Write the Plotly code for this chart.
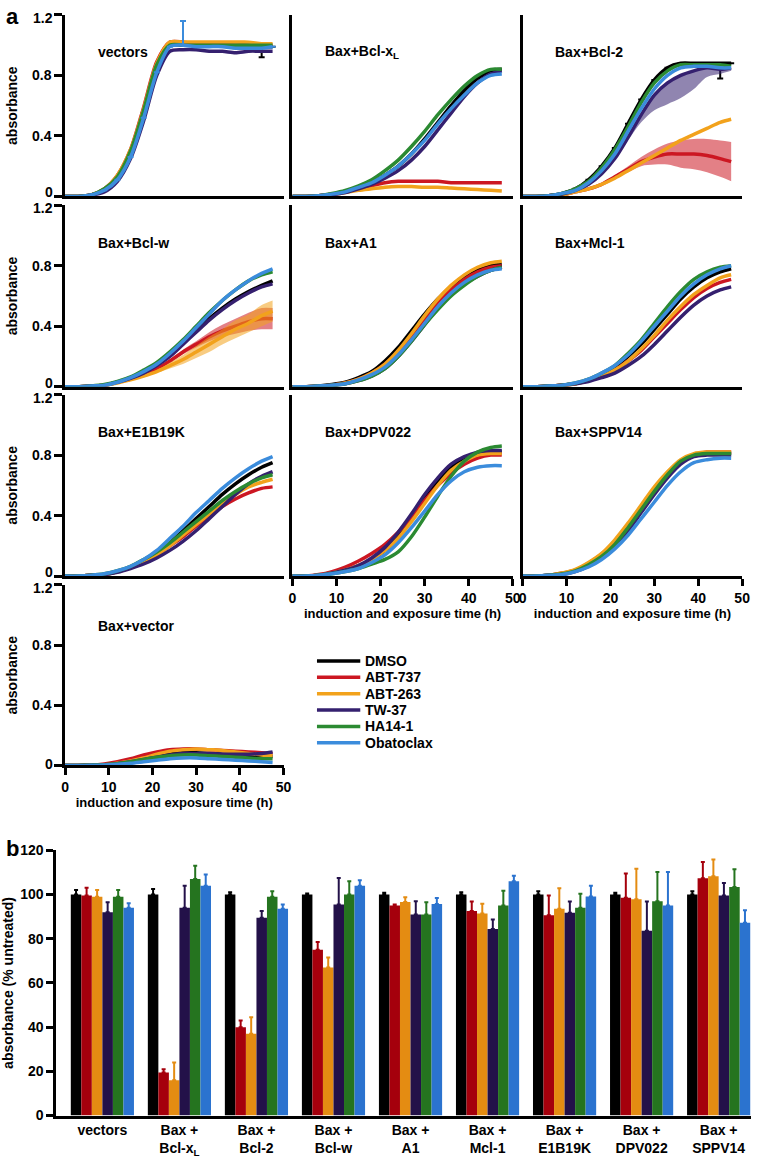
import plotly.graph_objects as go

# time points (h) shared by all growth curves
T = [0, 3, 6, 9, 12, 15, 18, 21, 24, 27, 30, 33, 36, 39, 42, 45, 47.5]

treatments = ["DMSO", "ABT-737", "ABT-263", "TW-37", "HA14-1", "Obatoclax"]
line_colors = ["#000000", "#cc1722", "#f2a21c", "#35206f", "#2b8a32", "#3b8cdc"]
bar_colors = ["#000000", "#a5000c", "#e48c12", "#231149", "#25741f", "#2b73cf"]

# panel a: absorbance curves
vectors = {
    "DMSO":      [0, 0, 0.01, 0.04, 0.12, 0.28, 0.55, 0.85, 1.0, 1.0, 1.0, 1.0, 1.0, 1.0, 1.0, 0.99, 0.99],
    "ABT-737":   [0, 0, 0.01, 0.05, 0.14, 0.31, 0.59, 0.89, 1.02, 1.02, 1.01, 1.01, 1.01, 1.0, 1.0, 1.0, 1.0],
    "ABT-263":   [0, 0, 0.01, 0.05, 0.14, 0.31, 0.58, 0.88, 1.02, 1.02, 1.02, 1.02, 1.02, 1.02, 1.02, 1.01, 1.01],
    "TW-37":     [0, 0, 0.01, 0.03, 0.10, 0.25, 0.50, 0.80, 0.96, 0.97, 0.97, 0.96, 0.96, 0.95, 0.96, 0.96, 0.96],
    "HA14-1":    [0, 0, 0.01, 0.05, 0.13, 0.30, 0.57, 0.87, 1.0, 1.0, 1.0, 1.0, 1.0, 1.0, 1.0, 1.0, 1.0],
    "Obatoclax": [0, 0, 0.01, 0.04, 0.11, 0.26, 0.52, 0.82, 0.99, 1.0, 0.99, 0.99, 0.99, 0.98, 0.98, 0.98, 0.99],
}
bcl_xl = {
    "DMSO":      [0, 0, 0.005, 0.015, 0.03, 0.06, 0.09, 0.14, 0.20, 0.28, 0.38, 0.49, 0.60, 0.70, 0.78, 0.83, 0.84],
    "ABT-737":   [0, 0, 0.005, 0.015, 0.03, 0.05, 0.07, 0.09, 0.10, 0.10, 0.10, 0.10, 0.09, 0.09, 0.09, 0.09, 0.09],
    "ABT-263":   [0, 0, 0.005, 0.01, 0.025, 0.04, 0.05, 0.06, 0.065, 0.065, 0.06, 0.06, 0.055, 0.05, 0.045, 0.04, 0.035],
    "TW-37":     [0, 0, 0.005, 0.01, 0.025, 0.05, 0.08, 0.12, 0.17, 0.24, 0.33, 0.44, 0.55, 0.66, 0.75, 0.81, 0.83],
    "HA14-1":    [0, 0, 0.005, 0.02, 0.04, 0.07, 0.11, 0.17, 0.24, 0.33, 0.43, 0.54, 0.64, 0.73, 0.80, 0.84, 0.84],
    "Obatoclax": [0, 0, 0.005, 0.015, 0.03, 0.06, 0.09, 0.14, 0.20, 0.28, 0.37, 0.48, 0.58, 0.67, 0.75, 0.80, 0.81],
}
bcl_2 = {
    "DMSO":      [0, 0, 0.005, 0.02, 0.05, 0.11, 0.20, 0.32, 0.48, 0.64, 0.77, 0.85, 0.88, 0.88, 0.88, 0.88, 0.88],
    "ABT-737":   [0, 0, 0.005, 0.01, 0.03, 0.05, 0.08, 0.13, 0.18, 0.23, 0.26, 0.28, 0.28, 0.28, 0.27, 0.25, 0.23],
    "ABT-263":   [0, 0, 0.005, 0.01, 0.03, 0.05, 0.08, 0.12, 0.17, 0.22, 0.27, 0.32, 0.37, 0.41, 0.45, 0.49, 0.51],
    "TW-37":     [0, 0, 0.005, 0.015, 0.04, 0.08, 0.15, 0.25, 0.39, 0.54, 0.67, 0.75, 0.80, 0.83, 0.85, 0.84, 0.85],
    "HA14-1":    [0, 0, 0.005, 0.02, 0.05, 0.10, 0.19, 0.31, 0.46, 0.62, 0.75, 0.83, 0.87, 0.87, 0.87, 0.87, 0.86],
    "Obatoclax": [0, 0, 0.005, 0.02, 0.04, 0.09, 0.17, 0.28, 0.43, 0.58, 0.71, 0.80, 0.85, 0.86, 0.86, 0.85, 0.85],
}
bcl_w = {
    "DMSO":      [0, 0, 0.005, 0.01, 0.03, 0.06, 0.10, 0.15, 0.21, 0.29, 0.37, 0.45, 0.52, 0.58, 0.63, 0.67, 0.70],
    "ABT-737":   [0, 0, 0.005, 0.01, 0.03, 0.05, 0.08, 0.12, 0.17, 0.23, 0.28, 0.33, 0.37, 0.40, 0.43, 0.45, 0.45],
    "ABT-263":   [0, 0, 0.005, 0.01, 0.025, 0.045, 0.07, 0.10, 0.14, 0.18, 0.23, 0.28, 0.33, 0.38, 0.42, 0.47, 0.50],
    "TW-37":     [0, 0, 0.005, 0.01, 0.03, 0.055, 0.09, 0.14, 0.20, 0.28, 0.36, 0.44, 0.51, 0.57, 0.62, 0.66, 0.68],
    "HA14-1":    [0, 0, 0.005, 0.015, 0.035, 0.065, 0.11, 0.16, 0.23, 0.31, 0.40, 0.49, 0.57, 0.64, 0.70, 0.74, 0.76],
    "Obatoclax": [0, 0, 0.005, 0.01, 0.03, 0.06, 0.10, 0.15, 0.22, 0.30, 0.39, 0.48, 0.57, 0.64, 0.70, 0.75, 0.78],
}
a1 = {
    "DMSO":      [0, 0, 0.005, 0.015, 0.03, 0.06, 0.10, 0.17, 0.26, 0.37, 0.48, 0.58, 0.66, 0.72, 0.77, 0.80, 0.81],
    "ABT-737":   [0, 0, 0.005, 0.01, 0.025, 0.05, 0.09, 0.15, 0.23, 0.34, 0.45, 0.56, 0.64, 0.71, 0.76, 0.79, 0.80],
    "ABT-263":   [0, 0, 0.005, 0.01, 0.025, 0.05, 0.09, 0.15, 0.24, 0.35, 0.47, 0.58, 0.67, 0.74, 0.79, 0.82, 0.83],
    "TW-37":     [0, 0, 0.005, 0.01, 0.02, 0.04, 0.07, 0.12, 0.20, 0.30, 0.41, 0.52, 0.61, 0.68, 0.73, 0.77, 0.79],
    "HA14-1":    [0, 0, 0.005, 0.01, 0.02, 0.04, 0.07, 0.12, 0.20, 0.30, 0.41, 0.51, 0.60, 0.67, 0.73, 0.77, 0.79],
    "Obatoclax": [0, 0, 0.005, 0.01, 0.02, 0.045, 0.08, 0.13, 0.21, 0.31, 0.42, 0.53, 0.62, 0.69, 0.74, 0.77, 0.78],
}
mcl_1 = {
    "DMSO":      [0, 0, 0.005, 0.01, 0.02, 0.045, 0.08, 0.13, 0.20, 0.28, 0.38, 0.48, 0.58, 0.66, 0.72, 0.76, 0.78],
    "ABT-737":   [0, 0, 0.005, 0.01, 0.02, 0.04, 0.07, 0.11, 0.17, 0.24, 0.33, 0.42, 0.51, 0.59, 0.65, 0.69, 0.71],
    "ABT-263":   [0, 0, 0.005, 0.01, 0.02, 0.04, 0.07, 0.11, 0.17, 0.25, 0.34, 0.44, 0.53, 0.61, 0.67, 0.72, 0.74],
    "TW-37":     [0, 0, 0.005, 0.01, 0.02, 0.035, 0.06, 0.09, 0.14, 0.20, 0.28, 0.37, 0.46, 0.54, 0.60, 0.64, 0.66],
    "HA14-1":    [0, 0, 0.005, 0.01, 0.025, 0.05, 0.09, 0.14, 0.22, 0.31, 0.42, 0.53, 0.63, 0.71, 0.76, 0.79, 0.80],
    "Obatoclax": [0, 0, 0.005, 0.01, 0.025, 0.05, 0.09, 0.14, 0.21, 0.30, 0.40, 0.50, 0.60, 0.68, 0.74, 0.78, 0.80],
}
e1b19k = {
    "DMSO":      [0, 0, 0.005, 0.01, 0.03, 0.06, 0.10, 0.15, 0.22, 0.30, 0.38, 0.46, 0.54, 0.61, 0.67, 0.72, 0.75],
    "ABT-737":   [0, 0, 0.005, 0.01, 0.03, 0.055, 0.09, 0.14, 0.20, 0.26, 0.33, 0.40, 0.46, 0.51, 0.55, 0.58, 0.59],
    "ABT-263":   [0, 0, 0.005, 0.01, 0.03, 0.055, 0.09, 0.14, 0.20, 0.27, 0.34, 0.41, 0.48, 0.54, 0.59, 0.62, 0.64],
    "TW-37":     [0, 0, 0.005, 0.01, 0.025, 0.05, 0.08, 0.12, 0.17, 0.23, 0.30, 0.38, 0.46, 0.54, 0.61, 0.66, 0.69],
    "HA14-1":    [0, 0, 0.005, 0.015, 0.035, 0.065, 0.11, 0.16, 0.22, 0.29, 0.36, 0.43, 0.50, 0.56, 0.61, 0.65, 0.67],
    "Obatoclax": [0, 0, 0.005, 0.015, 0.035, 0.065, 0.11, 0.17, 0.25, 0.33, 0.42, 0.50, 0.58, 0.65, 0.71, 0.76, 0.79],
}
dpv022 = {
    "DMSO":      [0, 0, 0.005, 0.02, 0.04, 0.07, 0.11, 0.17, 0.26, 0.38, 0.51, 0.63, 0.72, 0.78, 0.81, 0.82, 0.82],
    "ABT-737":   [0, 0, 0.01, 0.03, 0.06, 0.10, 0.15, 0.21, 0.29, 0.39, 0.50, 0.60, 0.68, 0.74, 0.78, 0.80, 0.80],
    "ABT-263":   [0, 0, 0.005, 0.02, 0.04, 0.07, 0.11, 0.17, 0.25, 0.36, 0.48, 0.60, 0.70, 0.76, 0.80, 0.81, 0.81],
    "TW-37":     [0, 0, 0.005, 0.02, 0.04, 0.07, 0.12, 0.19, 0.29, 0.41, 0.54, 0.65, 0.74, 0.79, 0.82, 0.83, 0.83],
    "HA14-1":    [0, 0, 0.005, 0.015, 0.03, 0.05, 0.08, 0.11, 0.16, 0.26, 0.39, 0.53, 0.66, 0.76, 0.82, 0.85, 0.86],
    "Obatoclax": [0, 0, 0.005, 0.015, 0.03, 0.05, 0.09, 0.14, 0.22, 0.32, 0.43, 0.54, 0.63, 0.69, 0.72, 0.73, 0.73],
}
sppv14 = {
    "DMSO":      [0, 0, 0.005, 0.015, 0.035, 0.075, 0.13, 0.21, 0.31, 0.43, 0.55, 0.66, 0.75, 0.80, 0.81, 0.81, 0.81],
    "ABT-737":   [0, 0, 0.005, 0.02, 0.04, 0.085, 0.145, 0.23, 0.34, 0.46, 0.58, 0.68, 0.76, 0.80, 0.82, 0.82, 0.82],
    "ABT-263":   [0, 0, 0.005, 0.02, 0.045, 0.09, 0.15, 0.24, 0.35, 0.47, 0.59, 0.69, 0.77, 0.81, 0.82, 0.82, 0.82],
    "TW-37":     [0, 0, 0.005, 0.01, 0.03, 0.065, 0.12, 0.20, 0.30, 0.42, 0.54, 0.65, 0.74, 0.79, 0.80, 0.80, 0.80],
    "HA14-1":    [0, 0, 0.005, 0.015, 0.035, 0.075, 0.13, 0.21, 0.32, 0.44, 0.56, 0.67, 0.76, 0.80, 0.81, 0.81, 0.81],
    "Obatoclax": [0, 0, 0.005, 0.01, 0.03, 0.06, 0.11, 0.18, 0.27, 0.38, 0.49, 0.60, 0.69, 0.75, 0.77, 0.78, 0.78],
}
bax_vector = {
    "DMSO":      [0, 0, 0.002, 0.005, 0.015, 0.03, 0.045, 0.065, 0.08, 0.085, 0.085, 0.08, 0.075, 0.07, 0.065, 0.06, 0.06],
    "ABT-737":   [0, 0, 0.002, 0.01, 0.025, 0.045, 0.07, 0.09, 0.105, 0.11, 0.11, 0.105, 0.10, 0.095, 0.09, 0.085, 0.08],
    "ABT-263":   [0, 0, 0.002, 0.005, 0.015, 0.03, 0.05, 0.075, 0.095, 0.105, 0.11, 0.105, 0.10, 0.09, 0.08, 0.07, 0.065],
    "TW-37":     [0, 0, 0.002, 0.005, 0.012, 0.025, 0.04, 0.055, 0.07, 0.08, 0.08, 0.08, 0.075, 0.075, 0.075, 0.08, 0.09],
    "HA14-1":    [0, 0, 0.002, 0.005, 0.012, 0.025, 0.04, 0.055, 0.065, 0.07, 0.07, 0.065, 0.06, 0.055, 0.05, 0.045, 0.045],
    "Obatoclax": [0, 0, 0.001, 0.003, 0.008, 0.015, 0.025, 0.035, 0.045, 0.05, 0.05, 0.045, 0.04, 0.035, 0.03, 0.025, 0.02],
}

# error spreads that are visible in the curves
bcl2_red_err = [0, 0, 0, 0, 0, 0, 0.005, 0.01, 0.02, 0.03, 0.05, 0.07, 0.09, 0.10, 0.11, 0.12, 0.13]
bcl2_purple_down = [0, 0, 0, 0, 0, 0, 0, 0, 0.02, 0.05, 0.10, 0.14, 0.15, 0.12, 0.06, 0.03, 0.02]
bclw_red_err = [0, 0, 0, 0, 0, 0, 0, 0.005, 0.01, 0.015, 0.02, 0.03, 0.04, 0.05, 0.06, 0.07, 0.07]
bclw_orange_err = [0, 0, 0, 0, 0, 0, 0.005, 0.01, 0.02, 0.03, 0.04, 0.05, 0.05, 0.06, 0.06, 0.07, 0.07]
zero = [0] * len(T)
vectors_blue_up = [0, 0, 0, 0, 0, 0, 0, 0, 0, 0.16, 0, 0, 0, 0, 0, 0, 0]
vectors_black_down = [0, 0, 0, 0, 0, 0, 0, 0, 0, 0, 0, 0, 0, 0, 0, 0.07, 0]
bcl2_black_down = [0, 0, 0, 0, 0, 0, 0, 0, 0, 0, 0, 0, 0, 0, 0, 0.1, 0]

# panel b: endpoint absorbance, % untreated
groups = ["vectors", "Bax +<br>Bcl-x<sub>L</sub>", "Bax +<br>Bcl-2", "Bax +<br>Bcl-w", "Bax +<br>A1",
          "Bax +<br>Mcl-1", "Bax +<br>E1B19K", "Bax +<br>DPV022", "Bax +<br>SPPV14"]
pct_dmso = [100, 100, 100, 100, 100, 100, 100, 100, 100]
pct_abt737 = [99.5, 19.5, 40, 75, 95, 92.5, 90.6, 98.5, 107.4]
pct_abt263 = [99, 16, 37, 67, 96.6, 91.4, 93.6, 97.8, 108.2]
pct_tw37 = [92, 94, 89.5, 95.5, 91, 84.4, 91.8, 83.6, 99.5]
pct_ha141 = [99, 107, 99, 100, 91, 95, 94, 97, 103.4]
pct_obato = [94, 104, 93.5, 104, 95.7, 106, 99.1, 95, 87.2]
err_dmso = [2, 2.5, 1, 0.5, 0.8, 1, 1.5, 0.8, 1.5]
err_abt737 = [3.5, 1.5, 3, 3.5, 0.5, 4.3, 8.9, 11, 7.3]
err_abt263 = [3, 8, 7.5, 4.5, 2.2, 4.4, 9.2, 13.9, 7.6]
err_tw37 = [4.5, 10, 3, 12, 6, 4.3, 5, 13.2, 5.7]
err_ha141 = [3, 6, 2.5, 6, 5.5, 6.7, 6.3, 13.2, 8]
err_obato = [2, 5, 2, 2.5, 2.7, 2.5, 4.9, 15.2, 5.7]

W, H = 759, 1166
FONT = "Liberation Sans, Arial, sans-serif"

panels = [
    ("vectors", vectors, 0, 0), ("Bax+Bcl-x<sub>L</sub>", bcl_xl, 0, 1), ("Bax+Bcl-2", bcl_2, 0, 2),
    ("Bax+Bcl-w", bcl_w, 1, 0), ("Bax+A1", a1, 1, 1), ("Bax+Mcl-1", mcl_1, 1, 2),
    ("Bax+E1B19K", e1b19k, 2, 0), ("Bax+DPV022", dpv022, 2, 1), ("Bax+SPPV14", sppv14, 2, 2),
    ("Bax+vector", bax_vector, 3, 0),
]
bands = {
    ("Bax+Bcl-2", "ABT-737"): (bcl2_red_err, bcl2_red_err),
    ("Bax+Bcl-2", "TW-37"): (zero, bcl2_purple_down),
    ("Bax+Bcl-w", "ABT-737"): (bclw_red_err, bclw_red_err),
    ("Bax+Bcl-w", "ABT-263"): (bclw_orange_err, bclw_orange_err),
}
spikes = {
    ("vectors", "Obatoclax"): (vectors_blue_up, zero),
    ("vectors", "DMSO"): (zero, vectors_black_down),
    ("Bax+Bcl-2", "DMSO"): (zero, bcl2_black_down),
}

col_px = [(62, 284), (293, 517), (527, 750)]
row_px = [(7, 191), (200, 384), (392, 576), (585, 768)]
title_dy = [38, 38, 38, 42]
tick_panels = [(2, 1), (2, 2), (3, 0)]


def xdom(a, b):
    return [a / W, b / W]


def ydom(top, bottom):
    return [1 - bottom / H, 1 - top / H]


def rgba(hexc, a):
    h = hexc.lstrip("#")
    return "rgba(%d,%d,%d,%s)" % (int(h[0:2], 16), int(h[2:4], 16), int(h[4:6], 16), a)


def bold(size):
    return dict(family=FONT, size=size, color="black", weight="bold")


fig = go.Figure()
annotations = []
shapes = []
layout = {}

for k, (name, data, r, c) in enumerate(panels, start=1):
    xa, ya = "x%d" % k, "y%d" % k
    for i, tr in enumerate(treatments):
        y = data[tr]
        if (name, tr) in bands:
            up, dn = bands[(name, tr)]
            fig.add_trace(go.Scatter(x=T, y=[v + u for v, u in zip(y, up)], mode="lines",
                                     line=dict(width=0, shape="spline"), xaxis=xa, yaxis=ya,
                                     showlegend=False, hoverinfo="skip"))
            fig.add_trace(go.Scatter(x=T, y=[v - d for v, d in zip(y, dn)], mode="lines",
                                     line=dict(width=0, shape="spline"), fill="tonexty",
                                     fillcolor=rgba(line_colors[i], 0.55), xaxis=xa, yaxis=ya,
                                     showlegend=False, hoverinfo="skip"))
        err = None
        if (name, tr) in spikes:
            up, dn = spikes[(name, tr)]
            err = dict(type="data", array=up, arrayminus=dn, color=line_colors[i], thickness=2, width=3)
        fig.add_trace(go.Scatter(
            x=T, y=y, mode="lines", name=tr, xaxis=xa, yaxis=ya,
            line=dict(color=line_colors[i], width=3.5, shape="spline", smoothing=0.8),
            error_y=err, showlegend=False))

    has_ticks = (r, c) in tick_panels
    layout["xaxis%d" % k] = dict(
        domain=xdom(*col_px[c]), range=[0, 50], anchor=ya,
        showline=True, linecolor="black", linewidth=2.5, showgrid=False, zeroline=False,
        ticks="outside" if has_ticks else "", ticklen=7, tickwidth=2.5, tickcolor="black",
        tickvals=[0, 10, 20, 30, 40, 50], showticklabels=has_ticks, tickfont=bold(14),
        title=dict(text="induction and exposure time (h)" if has_ticks else "", font=bold(13), standoff=4),
    )
    layout["yaxis%d" % k] = dict(
        domain=ydom(*row_px[r]), range=[0, 1.2], anchor=xa,
        showline=True, linecolor="black", linewidth=2.5, showgrid=False, zeroline=False,
        ticks="outside" if c == 0 else "", ticklen=8, tickwidth=2.5, tickcolor="black",
        tickvals=[0, 0.4, 0.8, 1.2], ticktext=["", "0.4", "0.8", ""], showticklabels=(c == 0),
        tickfont=bold(14),
        title=dict(text="absorbance" if c == 0 else "", font=bold(14), standoff=12),
    )
    if c == 0:
        # end labels sit slightly inside the axis span, as in the original
        zero_shift = 4 if r < 3 else 1
        for val, txt, ys in [(0, "0", zero_shift), (1.2, "1.2", -3)]:
            annotations.append(dict(text=txt, xref="paper", yref=ya, x=52 / W, y=val, yshift=ys,
                                    xanchor="right", yanchor="middle", showarrow=False, font=bold(14)))
    annotations.append(dict(
        text=name, xref="paper", yref="paper", x=(col_px[c][0] + 31) / W,
        y=1 - (row_px[r][0] + title_dy[r]) / H,
        xanchor="left", yanchor="middle", showarrow=False, font=bold(14)))

# legend drawn by hand so the rows sit as tight as in the original
for i, tr in enumerate(treatments):
    ly = 662 + 16.6 * i
    shapes.append(dict(type="line", xref="paper", yref="paper", x0=318 / W, x1=362 / W,
                       y0=1 - ly / H, y1=1 - ly / H, line=dict(color=line_colors[i], width=3.5)))
    annotations.append(dict(text=tr, xref="paper", yref="paper", x=365 / W, y=1 - ly / H,
                            xanchor="left", yanchor="middle", showarrow=False, font=bold(14)))

# panel b bars
kb = len(panels) + 1
series_b = [pct_dmso, pct_abt737, pct_abt263, pct_tw37, pct_ha141, pct_obato]
errs_b = [err_dmso, err_abt737, err_abt263, err_tw37, err_ha141, err_obato]
for i, tr in enumerate(treatments):
    fig.add_trace(go.Bar(
        x=groups, y=series_b[i], name=tr, marker=dict(color=bar_colors[i], line=dict(width=0)),
        error_y=dict(type="data", array=errs_b[i], arrayminus=[0] * len(groups), color=bar_colors[i],
                     thickness=2, width=2),
        xaxis="x%d" % kb, yaxis="y%d" % kb, showlegend=False))

layout["xaxis%d" % kb] = dict(
    domain=xdom(53, 759), range=[-0.6, 8.42], anchor="y%d" % kb, type="category",
    showline=True, linecolor="black", linewidth=2.5, showgrid=False, zeroline=False, ticks="",
    tickfont=bold(14))
layout["yaxis%d" % kb] = dict(
    domain=ydom(854, 1123), range=[0, 120], anchor="x%d" % kb,
    showline=True, linecolor="black", linewidth=2.5, showgrid=False, zeroline=False,
    ticks="outside", ticklen=7, tickwidth=2.5, tickcolor="black", dtick=20, tickfont=bold(14),
    title=dict(text="absorbance (% untreated)", font=bold(14), standoff=10))

for lab, py in [("a", 9), ("b", 852)]:
    annotations.append(dict(text=lab, xref="paper", yref="paper", x=0.0, y=1 - py / H,
                            xanchor="left", yanchor="middle", showarrow=False, font=bold(22)))

fig.update_layout(
    width=W, height=H, margin=dict(l=0, r=0, t=0, b=0),
    paper_bgcolor="white", plot_bgcolor="white",
    barmode="group", bargap=0.18, bargroupgap=0, showlegend=False,
    annotations=annotations, shapes=shapes,
    **layout,
)

# the page body has a default 8px margin; drop it so the figure sits at the corner
fig.write_html("out.html", config={"displayModeBar": False},
               post_script="document.body.style.margin='0px';")
